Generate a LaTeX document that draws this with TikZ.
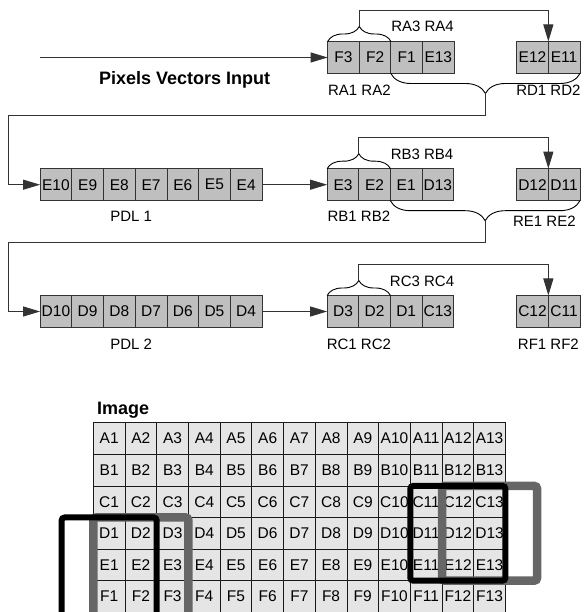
\documentclass[tikz,border=0pt]{standalone}
\usepackage{fontspec}
\setmainfont{Liberation Sans}
\usetikzlibrary{arrows.meta,positioning,calc,decorations.pathreplacing}

\begin{document}
\begin{tikzpicture}[
  x=1pt, y=1pt,
  >={Triangle[length=17pt,width=10pt]},
  cell/.style={draw=black!80, fill=black!25, line width=0.8pt, minimum width=31.7pt,
    minimum height=32pt, inner sep=0pt, outer sep=0pt, font=\fontsize{15.5}{18}\selectfont},
  pixel/.style={draw=black!90, fill=black!10, line width=0.7pt, minimum width=31.7pt,
    minimum height=31.6pt, inner sep=0pt, outer sep=0pt, font=\fontsize{15.5}{18}\selectfont},
  link/.style={draw=black!80, line width=0.9pt},
  curly/.style={decorate, decoration={brace, amplitude=#1}, line width=0.9pt},
  lbl/.style={font=\fontsize{15}{18}\selectfont},
  heading/.style={font=\fontsize{18}{21}\selectfont\bfseries, inner sep=0pt},
  window/.style={line width=6pt, draw=black, rounded corners=3pt},
  stride/.style={line width=8.5pt, draw=black!60, rounded corners=3pt}
]
\useasboundingbox (0,0) rectangle (583,612);

% Register rows: first stage.
\foreach \t [count=\i] in {F3,F2,F1,E13}
  \node[cell] (v\t) at ({327.7+31.6*(\i-0.5)},554.5) {\t};
\foreach \t [count=\i] in {E12,E11}
  \node[cell] (v\t) at ({516.7+31.6*(\i-0.5)},554.5) {\t};

% Second stage, PDL 1.
\foreach \t [count=\i] in {E10,E9,E8,E7,E6,E5,E4}
  \node[cell] (v\t) at ({40.1+31.7*(\i-0.5)},427.3) {\t};
\foreach \t [count=\i] in {E3,E2,E1,D13}
  \node[cell] (v\t) at ({327.2+31.6*(\i-0.5)},427.3) {\t};
\foreach \t [count=\i] in {D12,D11}
  \node[cell] (v\t) at ({516.7+31.6*(\i-0.5)},427.3) {\t};

% Third stage, PDL 2.
\foreach \t [count=\i] in {D10,D9,D8,D7,D6,D5,D4}
  \node[cell] (v\t) at ({40.1+31.7*(\i-0.5)},300.5) {\t};
\foreach \t [count=\i] in {D3,D2,D1,C13}
  \node[cell] (v\t) at ({327.2+31.6*(\i-0.5)},300.5) {\t};
\foreach \t [count=\i] in {C12,C11}
  \node[cell] (v\t) at ({516.7+31.6*(\i-0.5)},300.5) {\t};

% Input and labels.
\coordinate (src) at (40.2,554.5);
\draw[link,->] (src) -- (vF3.west);
\node[heading] (pvi) at (184.6,532) {Pixels Vectors Input};

\node[lbl] (ra12) at ($(vF3.south east)+(0,-17)$) {RA1 RA2};
\node[lbl] (ra34) at ($(vF1.north east)+(0,15)$) {RA3 RA4};
\node[lbl] (rd12) at ($(vE12.south east)+(0,-17)$) {RD1 RD2};
\node[lbl] (pdl1) at ($(vE8.south east)+(-4,-16)$) {PDL 1};
\node[lbl] (rb12) at ($(vE3.south east)+(0,-16)$) {RB1 RB2};
\node[lbl] (rb34) at ($(vE1.north east)+(0,14)$) {RB3 RB4};
\node[lbl] (re12) at ($(vD12.south east)+(-4,-21)$) {RE1 RE2};
\node[lbl] (pdl2) at ($(vD8.south east)+(-4,-17)$) {PDL 2};
\node[lbl] (rc12) at ($(vD3.south east)+(0,-17)$) {RC1 RC2};
\node[lbl] (rc34) at ($(vD1.north east)+(0,14)$) {RC3 RC4};
\node[lbl] (rf12) at ($(vC12.south east)+(0,-17)$) {RF1 RF2};

% Braces and feedback paths.
\draw[curly=15] (vF3.north west) -- (vF2.north east);
\coordinate (tipA) at ($(vF3.north east)+(0,15)$);
\draw[link,->] (tipA) |- ($(vE12.north east)+(0,31.5)$) -- (vE12.north east);
\draw[curly=20] (vE11.south east) -- (vF1.south west);
\coordinate (tipD) at ($(vF1.south west)!0.5!(vE11.south east)+(0,-20)$);
\draw[link,->] (tipD) |- ($(vE10.west)+(-31.6,68.8)$) |- (vE10.west);

\draw[link,->] (vE4) -- (vE3);
\draw[curly=15] (vE3.north west) -- (vE2.north east);
\coordinate (tipB) at ($(vE3.north east)+(0,15)$);
\draw[link,->] (tipB) |- ($(vD12.north east)+(0,31.5)$) -- (vD12.north east);
\draw[curly=20] (vD11.south east) -- (vE1.south west);
\coordinate (tipE) at ($(vE1.south west)!0.5!(vD11.south east)+(0,-20)$);
\draw[link,->] (tipE) |- ($(vD10.west)+(-31.6,68.8)$) |- (vD10.west);

\draw[link,->] (vD4) -- (vD3);
\draw[curly=15] (vD3.north west) -- (vD2.north east);
\coordinate (tipC) at ($(vD3.north east)+(0,15)$);
\draw[link,->] (tipC) |- ($(vC12.north east)+(0,31.5)$) -- (vC12.north east);

% Image grid.
\node[heading, anchor=west] (imgttl) at (97,202) {Image};
\foreach \r [count=\j] in {A,...,F}
  \foreach \c in {1,...,13}
    \node[pixel] (px\r\c) at ({93.3+31.7*(\c-0.5)},{189.3-31.6*(\j-0.5)}) {\r\c};

% Sliding windows.
\draw[stride] (pxD1.north west) rectangle ($(pxF3.south east)+(0,-12)$);
\draw[window] ($(pxD1.north west)+(-31.7,0)$) rectangle ($(pxF2.south east)+(0,-12)$);
\draw[stride] (pxC12.north west) rectangle ($(pxE13.south east)+(31.7,0)$);
\draw[window] (pxC11.north west) rectangle (pxE13.south east);

\end{tikzpicture}
\end{document}
